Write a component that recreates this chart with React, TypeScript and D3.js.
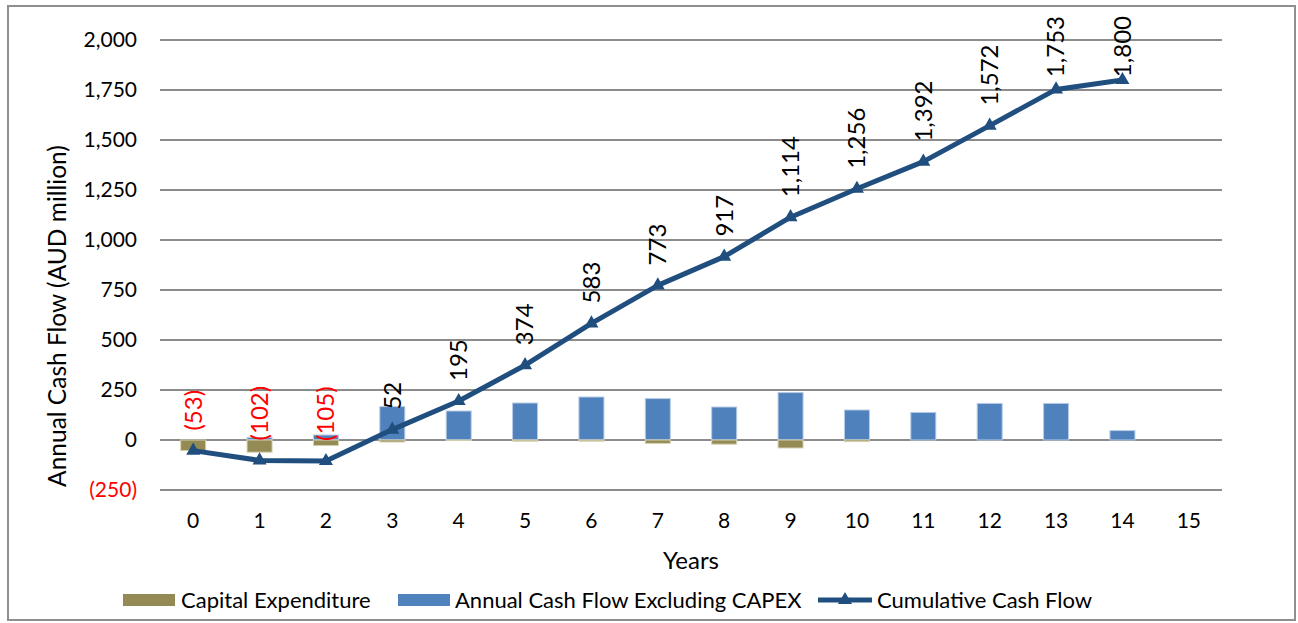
import React, { useEffect, useRef } from "react";
import * as d3 from "d3";

const years = [0, 1, 2, 3, 4, 5, 6, 7, 8, 9, 10, 11, 12, 13, 14, 15];
const capex = [-53, -61, -28, -10, -2, -6, -6, -17, -21, -40, -8, 0, 0, 0, 0, null];
const annualExCapex = [0, 12, 25, 167, 145, 185, 215, 207, 165, 237, 150, 138, 183, 183, 47, null];
const cumulative = [-53, -102, -105, 52, 195, 374, 583, 773, 917, 1114, 1256, 1392, 1572, 1753, 1800];
const yTicks = [-250, 0, 250, 500, 750, 1000, 1250, 1500, 1750, 2000];

const W = 1298;
const H = 623;
const FONT = "Lato, 'Open Sans', sans-serif";
const fmt = (v: number) => (v < 0 ? `(${d3.format(",")(-v)})` : d3.format(",")(v));

export default function App() {
  const ref = useRef<SVGSVGElement>(null);

  useEffect(() => {
    const svg = d3.select(ref.current);
    svg.selectAll("*").remove();

    const left = 160, right = 1222;
    const x = d3.scaleBand<number>().domain(years).range([left, right]).paddingInner(0).paddingOuter(0);
    const y = d3.scaleLinear().domain([-250, 2000]).range([490, 40]);
    const bw = 25;
    const cx = (d: number) => (x(d) as number) + x.bandwidth() / 2;

    // frame
    svg.append("rect").attr("x", 8).attr("y", 6).attr("width", 1287).attr("height", 614)
      .attr("fill", "#fff").attr("stroke", "#8f8f8f").attr("stroke-width", 2);

    // gridlines
    svg.append("g").selectAll("line").data(yTicks).join("line")
      .attr("x1", left).attr("x2", right)
      .attr("y1", (d) => y(d)).attr("y2", (d) => y(d))
      .attr("stroke", "#8c8c8c").attr("stroke-width", 2);

    // y tick labels
    svg.append("g").selectAll("text").data(yTicks).join("text")
      .attr("x", 137).attr("y", (d) => y(d)).attr("dy", "0.35em")
      .attr("text-anchor", "end").attr("font-family", FONT).attr("font-size", 21)
      .attr("fill", (d) => (d < 0 ? "#ff0000" : "#000"))
      .text((d) => fmt(d));

    // x tick labels
    svg.append("g").selectAll("text").data(years).join("text")
      .attr("x", (d) => cx(d)).attr("y", 521).attr("dy", "0.35em")
      .attr("text-anchor", "middle").attr("font-family", FONT).attr("font-size", 21)
      .attr("fill", "#000").text((d) => String(d));

    // axis titles
    svg.append("text").attr("x", (left + right) / 2).attr("y", 561).attr("dy", "0.35em")
      .attr("text-anchor", "middle").attr("font-family", FONT).attr("font-size", 24)
      .attr("fill", "#000").text("Years");
    svg.append("text").attr("transform", `translate(57,316) rotate(-90)`).attr("dy", "0.35em")
      .attr("text-anchor", "middle").attr("font-family", FONT).attr("font-size", 24.5)
      .attr("fill", "#000").text("Annual Cash Flow (AUD million)");

    // bars: annual cash flow excl capex (positive)
    svg.append("g").selectAll("rect").data(years.filter((d, i) => annualExCapex[i] != null && (annualExCapex[i] as number) > 0)).join("rect")
      .attr("x", (d) => cx(d) - bw / 2).attr("width", bw)
      .attr("y", (d) => y(annualExCapex[d] as number))
      .attr("height", (d) => y(0) - y(annualExCapex[d] as number))
      .attr("fill", "#4f81bd").attr("stroke", "#b7cbe4").attr("stroke-width", 1);

    // bars: capex (negative)
    svg.append("g").selectAll("rect").data(years.filter((d, i) => capex[i] != null && (capex[i] as number) < 0)).join("rect")
      .attr("x", (d) => cx(d) - bw / 2).attr("width", bw)
      .attr("y", y(0))
      .attr("height", (d) => y(capex[d] as number) - y(0))
      .attr("fill", "#948a54").attr("stroke", "#d6d2b4").attr("stroke-width", 1);

    // cumulative line
    const line = d3.line<number>().x((d, i) => cx(years[i])).y((d) => y(d));
    svg.append("path").datum(cumulative).attr("d", line)
      .attr("fill", "none").attr("stroke", "#1f4e7f").attr("stroke-width", 5)
      .attr("stroke-linejoin", "round");
    const tri = d3.symbol().type(d3.symbolTriangle).size(85);
    svg.append("g").selectAll("path").data(cumulative).join("path")
      .attr("transform", (d, i) => `translate(${cx(years[i])},${y(d)})`)
      .attr("d", tri).attr("fill", "#1f4e7f");

    // data labels
    const lg = svg.append("g");
    cumulative.forEach((v, i) => {
      const t = lg.append("text")
        .attr("font-family", FONT).attr("font-size", 24)
        .attr("fill", v < 0 ? "#ff0000" : "#000")
        .attr("text-anchor", "start").attr("dy", "0.35em")
        .text(fmt(v));
      const len = (t.node() as SVGTextElement).getComputedTextLength();
      let yb = y(v) - 20;
      if (yb - len < 16) yb = 16 + len;
      t.attr("transform", `translate(${cx(years[i])},${yb}) rotate(-90)`);
    });

    // legend
    const leg = svg.append("g").attr("font-family", FONT).attr("font-size", 22);
    leg.append("rect").attr("x", 123).attr("y", 594).attr("width", 52).attr("height", 12).attr("fill", "#948a54");
    leg.append("text").attr("x", 181).attr("y", 600).attr("dy", "0.35em").text("Capital Expenditure");
    leg.append("rect").attr("x", 398).attr("y", 594).attr("width", 52).attr("height", 12).attr("fill", "#4f81bd");
    leg.append("text").attr("x", 455).attr("y", 600).attr("dy", "0.35em").text("Annual Cash Flow Excluding CAPEX");
    leg.append("line").attr("x1", 818).attr("x2", 872).attr("y1", 600).attr("y2", 600)
      .attr("stroke", "#1f4e7f").attr("stroke-width", 5);
    leg.append("path").attr("transform", "translate(845,600)").attr("d", tri).attr("fill", "#1f4e7f");
    leg.append("text").attr("x", 877).attr("y", 600).attr("dy", "0.35em").text("Cumulative Cash Flow");
  }, []);

  return (
    <svg ref={ref} width={W} height={H} style={{ position: "absolute", left: 0, top: 0, background: "#fff" }} />
  );
}
